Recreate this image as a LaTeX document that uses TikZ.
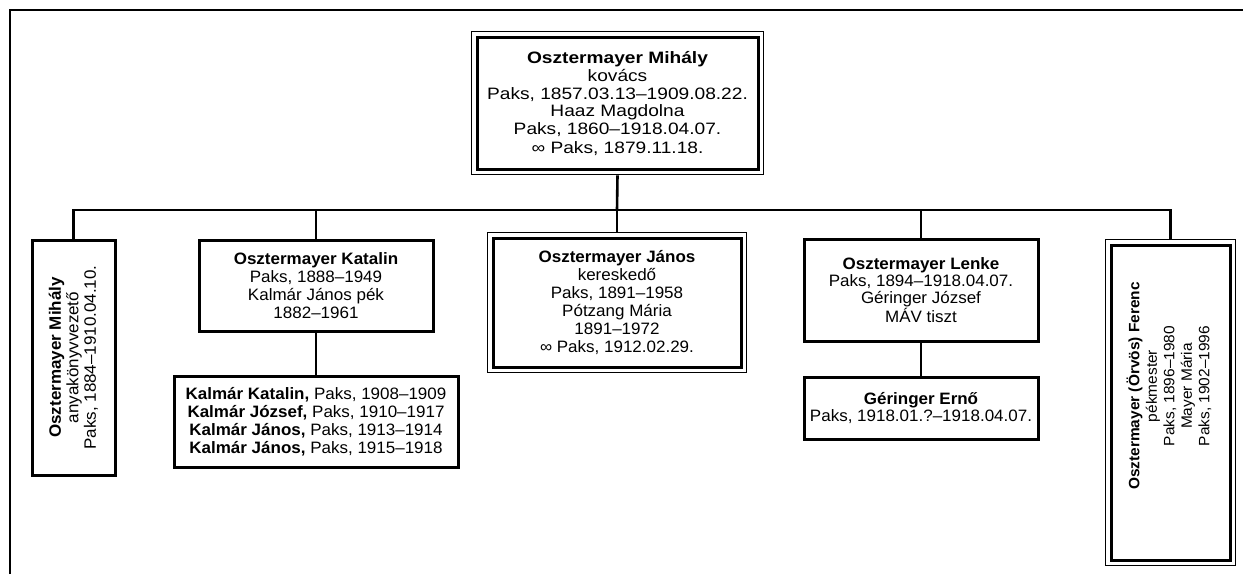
\documentclass[tikz,border=0pt]{standalone}
\usepackage{fontspec}
\setmainfont{Liberation Sans}[FakeStretch=1.03]
\newfontfamily\widefont{Liberation Sans}[FakeStretch=1.16]
\newfontfamily\widebold{Liberation Sans Bold}[FakeStretch=1.16]
\usetikzlibrary{fit}

\tikzset{
    person/.style={draw, rectangle, line width=3pt, inner sep=0pt, align=center,
        font=\fontsize{16.5}{18}\selectfont},
    heir/.style={draw, rectangle, line width=1.6pt, inner sep=4pt},
    link/.style={line width=2.6pt},
}

\begin{document}
\begin{tikzpicture}[x=1pt, y=1pt]
                \useasboundingbox (0, 0) rectangle (1243, -574);
                \draw[line width=2pt] (10, -574) |- (1243, -10);

                \node[person, minimum width=281, minimum height=132,
                    font=\widefont\fontsize{16.5}{18}\selectfont] (mihaly) at (617.5, -103)
                    {{\widebold Osztermayer Mihály}\\ kovács\\ Paks, 1857.03.13–1909.08.22.\\
                     Haaz Magdolna\\ Paks, 1860–1918.04.07.\\ ∞ Paks, 1879.11.18.};
                \node[heir, fit=(mihaly)] (mihalyf) {};

                \node[person, rotate=90, minimum width=235, minimum height=83,
                    font=\fontsize{16.5}{17.5}\selectfont] (mihalyjr) at (73.5, -357.5)
                    {\textbf{Osztermayer Mihály}\\ anyakönyvvezető\\ Paks, 1884–1910.04.10.};
                \node[person, minimum width=234, minimum height=91] (katalin) at (316, -285.5)
                    {\textbf{Osztermayer Katalin}\\ Paks, 1888–1949\\ Kalmár János pék\\ 1882–1961};
                \node[person, minimum width=284, minimum height=91] (kalmarok) at (316, -421.5)
                    {\textbf{Kalmár Katalin,} Paks, 1908–1909\\ \textbf{Kalmár József,} Paks, 1910–1917\\
                     \textbf{Kalmár János,} Paks, 1913–1914\\ \textbf{Kalmár János,} Paks, 1915–1918};
                \node[person, minimum width=248, minimum height=129] (janos) at (617, -302.5)
                    {\textbf{Osztermayer János}\\ kereskedő\\ Paks, 1891–1958\\ Pótzang Mária\\
                     1891–1972\\ ∞ Paks, 1912.02.29.};
                \node[heir, fit=(janos)] (janosf) {};
                \node[person, minimum width=234, minimum height=102,
                    font=\fontsize{16.5}{17}\selectfont] (lenke) at (921, -290)
                    {\textbf{Osztermayer Lenke}\\ Paks, 1894–1918.04.07.\\ Géringer József\\ MÁV tiszt};
                \node[person, minimum width=234, minimum height=62,
                    font=\fontsize{16.5}{16.5}\selectfont] (erno) at (921, -408)
                    {\textbf{Géringer Ernő}\\ Paks, 1918.01.?–1918.04.07.};
                \node[person, rotate=90, minimum width=315, minimum height=119, align=none,
                    font=\fontsize{15}{17.5}\selectfont] (ferenc) at (1170.5, -402.5)
                    {\hspace*{33pt}\begin{tabular}{@{}c@{}}\textbf{Osztermayer (Örvös) Ferenc}\\ pékmester\\
                     Paks, 1896–1980\\ Mayer Mária\\ Paks, 1902–1996\end{tabular}};
                \node[heir, fit=(ferenc)] (ferencf) {};

                \coordinate (bus) at (617, -210);
                \draw[link] (mihalyf.south) -- (bus);
                \draw[link] (bus) -| (mihalyjr.east);
                \draw[link] (bus) -| (katalin.north);
                \draw[link] (bus) -- (janosf.north);
                \draw[link] (bus) -| (lenke.north);
                \draw[link] (bus) -| (ferencf.north);
                \draw[link] (katalin) -- (kalmarok);
                \draw[link] (lenke) -- (erno);
\end{tikzpicture}
\end{document}
